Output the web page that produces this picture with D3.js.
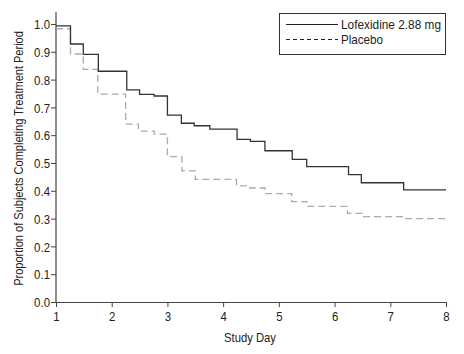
<!DOCTYPE html>
<html>
<head>
<meta charset="utf-8">
<script src="https://cdn.jsdelivr.net/npm/d3@7"></script>
<style>
  body { margin: 0; background: #fff; }
  svg text { font-family: "Liberation Sans Narrow", "Arial Narrow", "Liberation Sans", sans-serif; fill: #222; }
</style>
</head>
<body>
<svg id="chart" width="464" height="354"></svg>
<script>
// step points: [day, proportion] - value holds until the next day
var lofexidine = [
  [1.00, 0.993], [1.26, 0.928], [1.49, 0.891], [1.76, 0.830], [2.27, 0.763],
  [2.50, 0.747], [2.76, 0.741], [3.00, 0.672], [3.25, 0.643], [3.48, 0.634],
  [3.76, 0.622], [4.25, 0.585], [4.49, 0.578], [4.75, 0.544], [5.24, 0.513],
  [5.50, 0.487], [6.25, 0.458], [6.48, 0.429], [7.24, 0.403], [8.00, 0.403]
];
var placebo = [
  [1.00, 0.983], [1.26, 0.892], [1.49, 0.837], [1.75, 0.748], [2.25, 0.640],
  [2.48, 0.615], [2.76, 0.604], [3.00, 0.523], [3.26, 0.472], [3.50, 0.441],
  [4.24, 0.418], [4.48, 0.410], [4.75, 0.390], [5.23, 0.361], [5.50, 0.344],
  [6.23, 0.319], [6.49, 0.307], [7.24, 0.300], [8.00, 0.300]
];
var xTicks = [1, 2, 3, 4, 5, 6, 7, 8];
var yTicks = [0, 0.1, 0.2, 0.3, 0.4, 0.5, 0.6, 0.7, 0.8, 0.9, 1.0];
var seriesNames = ['Lofexidine 2.88 mg', 'Placebo'];

var svg = d3.select('#chart');

var x = d3.scaleLinear().domain([1, 8]).range([56, 446]);
var y = d3.scaleLinear().domain([0, 1]).range([302, 24]);

// narrow font is not installed, squeeze the regular one
function narrow(sel, factor){
  sel.each(function(){
    var w = this.getComputedTextLength();
    d3.select(this).attr('textLength', w * factor).attr('lengthAdjust', 'spacingAndGlyphs');
  });
}

// axes
var yAxis = svg.append('g')
  .attr('transform', 'translate(56,0)')
  .call(d3.axisLeft(y).tickValues(yTicks).tickFormat(d3.format('.1f')).tickSize(5).tickSizeOuter(0));
yAxis.select('.domain').remove();
svg.append('line')
  .attr('x1', 56).attr('x2', 56)
  .attr('y1', 12).attr('y2', y(0))
  .attr('stroke', '#444').attr('stroke-width', 1.2);

var xAxis = svg.append('g')
  .attr('transform', 'translate(0,' + y(0) + ')')
  .call(d3.axisBottom(x).tickValues(xTicks).tickFormat(d3.format('d')).tickSize(5).tickSizeOuter(0));

svg.selectAll('.tick line').attr('stroke', '#444');
xAxis.select('.domain').attr('stroke', '#444').attr('stroke-width', 1.2);
svg.selectAll('.tick text').style('font-size', '13px').attr('fill', '#222');
yAxis.selectAll('.tick text').attr('x', -6).attr('dy', '0.36em');
xAxis.selectAll('.tick text').attr('y', 9).attr('dy', '0.8em');
narrow(svg.selectAll('.tick text'), 0.88);

// step lines
var line = d3.line()
  .x(function(d){ return x(d[0]); })
  .y(function(d){ return y(d[1]); })
  .curve(d3.curveStepAfter);

svg.append('path')
  .datum(placebo)
  .attr('d', line)
  .attr('fill', 'none')
  .attr('stroke', '#aaa')
  .attr('stroke-width', 1.3)
  .attr('stroke-dasharray', '7,4');

svg.append('path')
  .datum(lofexidine)
  .attr('d', line)
  .attr('fill', 'none')
  .attr('stroke', '#333')
  .attr('stroke-width', 1.3);

// axis titles
svg.append('text')
  .attr('x', 250).attr('y', 342)
  .attr('text-anchor', 'middle')
  .style('font-size', '13.5px')
  .attr('textLength', 52).attr('lengthAdjust', 'spacingAndGlyphs')
  .text('Study Day');

var ytitle = svg.append('text')
  .attr('text-anchor', 'middle')
  .style('font-size', '13.5px')
  .text('Proportion of Subjects Completing Treatment Period');
var sx = 255 / ytitle.node().getComputedTextLength();
ytitle.attr('transform', 'translate(23,158.5) rotate(-90) scale(' + sx + ',1)');

// legend
var legend = svg.append('g');
legend.append('rect')
  .attr('x', 279.5).attr('y', 13.5)
  .attr('width', 166).attr('height', 41)
  .attr('fill', '#fff').attr('stroke', '#333').attr('stroke-width', 1);

var dashes = [null, '4,3'];
var legendWidths = [100, 42];
seriesNames.forEach(function(name, i){
  var ly = 24.5 + i * 15;
  legend.append('line')
    .attr('x1', 286).attr('x2', 338)
    .attr('y1', ly).attr('y2', ly)
    .attr('stroke', '#222').attr('stroke-width', 1.1)
    .attr('stroke-dasharray', dashes[i]);
  legend.append('text')
    .attr('x', 341).attr('y', ly)
    .attr('dy', '0.36em')
    .style('font-size', '13px')
    .attr('textLength', legendWidths[i]).attr('lengthAdjust', 'spacingAndGlyphs')
    .text(name);
});
</script>
</body>
</html>
